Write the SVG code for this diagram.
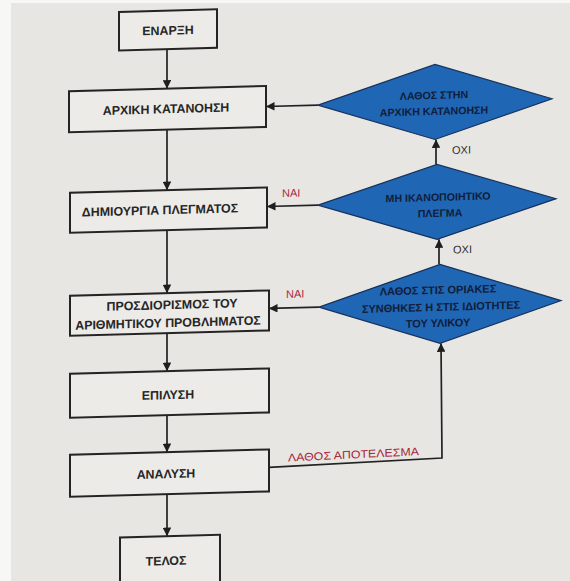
<svg xmlns="http://www.w3.org/2000/svg" width="570" height="581" viewBox="0 0 570 581">
  <style>
    .box { fill: #ecebe8; stroke: #242424; stroke-width: 2; }
    .dia { fill: #1f66b4; stroke: #17325c; stroke-width: 1.2; }
    .t { font-family: "Liberation Sans", Arial, sans-serif; font-weight: bold; font-size: 12.4px; fill: #262626; text-anchor: middle; }
    .dt { font-family: "Liberation Sans", Arial, sans-serif; font-weight: bold; font-size: 10.6px; fill: #111d3a; text-anchor: middle; }
    .dt3 { font-size: 11px; }
    .lbl { font-family: "Liberation Sans", Arial, sans-serif; font-size: 11px; fill: #a3283c; }
    .no { fill: #2e2e2e; }
    .edge { fill: none; stroke: #222; stroke-width: 1.7; marker-end: url(#ah); }
  </style>
  <defs>
    <marker id="ah" viewBox="0 0 10 10" refX="10" refY="5" markerWidth="9" markerHeight="8.5" markerUnits="userSpaceOnUse" orient="auto">
      <path d="M0,0 L10,5 L0,10 z" fill="#1e1e1e"/>
    </marker>
  </defs>

  <!-- page -->
  <rect x="0" y="0" width="570" height="581" fill="#f7f7f6"/>
  <rect x="11" y="3" width="559" height="578" fill="#e8e6e3"/>

  <!-- whole chart, slightly sheared -->
  <g transform="matrix(1 -0.027 0 1 0 7.7)">
    <g id="connectors">
      <path class="edge" d="M167,46 L167,85.5"/>
      <path class="edge" d="M167,126.5 L167,187"/>
      <path class="edge" d="M167,227 L167,290"/>
      <path class="edge" d="M167,330 L167,368"/>
      <path class="edge" d="M167,412 L167,449"/>
      <path class="edge" d="M167,491 L167,533"/>
      <path class="edge" d="M318,106 L266,106"/>
      <path class="edge" d="M318,206 L267,206"/>
      <path class="edge" d="M319,308 L269,308"/>
      <path class="edge" d="M436,168.5 L436,143.5"/>
      <path class="edge" d="M439,268.5 L439,243.5"/>
      <path class="edge" d="M269,467 L442,462.3 L441,347.5"/>
      <text class="lbl" x="282" y="197">ΝΑΙ</text>
      <text class="lbl" x="286" y="298">ΝΑΙ</text>
      <text class="lbl no" x="452" y="158.5">ΟΧΙ</text>
      <text class="lbl no" x="453" y="258">ΟΧΙ</text>
      <text class="lbl" x="288" y="461.5" font-size="12" textLength="131" lengthAdjust="spacingAndGlyphs" transform="rotate(-1.2 288 461.5)">ΛΑΘΟΣ ΑΠΟΤΕΛΕΣΜΑ</text>
    </g>

    <g id="start">
      <rect class="box" x="119" y="7.5" width="98" height="38.5"/>
      <text class="t" x="168" y="31.5">ΕΝΑΡΞΗ</text>
    </g>
    <g id="initial-understanding">
      <rect class="box" x="69" y="85.5" width="197" height="41"/>
      <text class="t" x="166" y="110">ΑΡΧΙΚΗ ΚΑΤΑΝΟΗΣΗ</text>
    </g>
    <g id="mesh-generation">
      <rect class="box" x="70" y="187" width="197" height="40"/>
      <text class="t" x="160" y="211">ΔΗΜΙΟΥΡΓΙΑ ΠΛΕΓΜΑΤΟΣ</text>
    </g>
    <g id="problem-definition">
      <rect class="box" x="70" y="290" width="199" height="40"/>
      <text class="t" x="172" y="306">ΠΡΟΣΔΙΟΡΙΣΜΟΣ ΤΟΥ</text>
      <text class="t" x="168" y="324">ΑΡΙΘΜΗΤΙΚΟΥ ΠΡΟΒΛΗΜΑΤΟΣ</text>
    </g>
    <g id="solution">
      <rect class="box" x="70" y="368" width="199" height="44"/>
      <text class="t" x="168" y="396">ΕΠΙΛΥΣΗ</text>
    </g>
    <g id="analysis">
      <rect class="box" x="70" y="449" width="199" height="42"/>
      <text class="t" x="166" y="475">ΑΝΑΛΥΣΗ</text>
    </g>
    <g id="end">
      <rect class="box" x="120" y="533" width="100" height="52"/>
      <text class="t" x="166" y="562">ΤΕΛΟΣ</text>
    </g>

    <g id="check-understanding">
      <polygon class="dia" points="318,106 435,68.5 552,106 435,143.5"/>
      <text class="dt" x="434" y="103">ΛΑΘΟΣ ΣΤΗΝ</text>
      <text class="dt" x="434" y="119">ΑΡΧΙΚΗ ΚΑΤΑΝΟΗΣΗ</text>
    </g>
    <g id="check-mesh">
      <polygon class="dia" points="318,206 437,168.5 556,206 437,243.5"/>
      <text class="dt" x="438" y="205">ΜΗ ΙΚΑΝΟΠΟΙΗΤΙΚΟ</text>
      <text class="dt" x="440" y="221">ΠΛΕΓΜΑ</text>
    </g>
    <g id="check-conditions">
      <polygon class="dia" points="319,308 440,268.5 561,308 440,347.5"/>
      <text class="dt dt3" x="438" y="298">ΛΑΘΟΣ ΣΤΙΣ ΟΡΙΑΚΕΣ</text>
      <text class="dt dt3" x="441" y="315">ΣΥΝΘΗΚΕΣ Η ΣΤΙΣ ΙΔΙΟΤΗΤΕΣ</text>
      <text class="dt dt3" x="438" y="331">ΤΟΥ ΥΛΙΚΟΥ</text>
    </g>
  </g>
</svg>
